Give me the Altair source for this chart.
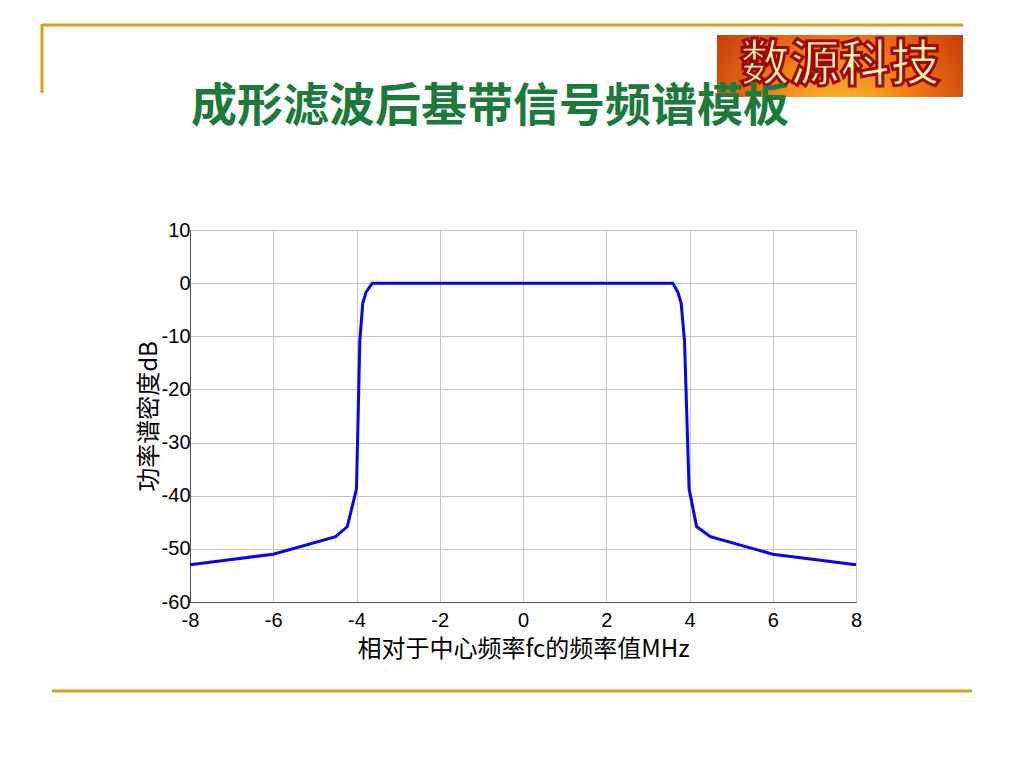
import altair as alt
import pandas as pd

# data
freq = [-8, -7, -6, -4.5, -4.22, -4.0, -3.92, -3.85, -3.77, -3.62,
        3.6, 3.72, 3.8, 3.88, 3.99, 4.17, 4.5, 6, 7, 8]
psd = [-53, -52, -51, -47.7, -45.8, -38.7, -10.8, -3.8, -1.7, 0,
       0, -1.7, -3.8, -10.8, -38.7, -45.8, -47.7, -51, -52, -53]
x_ticks = [-8, -6, -4, -2, 0, 2, 4, 6, 8]
y_ticks = [-60, -50, -40, -30, -20, -10, 0, 10]

title_text = "成形滤波后基带信号频谱模板"
logo_text = "数源科技"
x_title = "相对于中心频率fc的频率值MHz"
y_title = "功率谱密度dB"

df = pd.DataFrame({"f": freq, "p": psd})
one = pd.DataFrame({"a": [0]})

W, H = 666, 372
LBL = "Liberation Sans"
CJK = "Noto Sans CJK SC"
hyphen = "'' + datum.value"

line = alt.Chart(df).mark_line(color="#0505EE", strokeWidth=3).encode(
    x=alt.X("f:Q", scale=alt.Scale(domain=[-8, 8], nice=False, zero=False),
            axis=alt.Axis(values=x_ticks, title=x_title, grid=True, ticks=False,
                          labelPadding=8, titlePadding=7, labelFlush=False,
                          labelExpr=hyphen)),
    y=alt.Y("p:Q", scale=alt.Scale(domain=[-60, 10], nice=False, zero=False),
            axis=alt.Axis(values=y_ticks, title=y_title, grid=True, ticks=False,
                          labelPadding=0, titlePadding=0, labelFlush=False,
                          labelExpr=hyphen)),
)

gold = "#D6A21E"
top_line = alt.Chart(one).mark_rule(color=gold, strokeWidth=3).encode(
    x=alt.value(-148), x2=alt.value(773), y=alt.value(-205))
left_line = alt.Chart(one).mark_rule(color=gold, strokeWidth=3).encode(
    x=alt.value(-148), y=alt.value(-206), y2=alt.value(-137))
bottom_line = alt.Chart(one).mark_rule(color=gold, strokeWidth=3).encode(
    x=alt.value(-138), x2=alt.value(782), y=alt.value(461))

logo_bg = alt.Chart(one).mark_rect(
    fill=alt.RadialGradient(
        gradient="radial", x1=0.5, y1=0.8, x2=0.5, y2=0.7, r1=0, r2=0.8,
        stops=[alt.GradientStop(offset=0, color="#FFD838"),
               alt.GradientStop(offset=0.45, color="#EE7412"),
               alt.GradientStop(offset=1, color="#A8140A")])
).encode(x=alt.value(527), x2=alt.value(773), y=alt.value(-195), y2=alt.value(-133))

logo_txt = alt.Chart(one).mark_text(
    text=logo_text, font=CJK, fontSize=50, fontWeight="bold", fill="#FFF4B0",
    stroke="#A00808", strokeWidth=3, align="center", baseline="middle"
).encode(x=alt.value(650), y=alt.value(-164))

title = alt.Chart(one).mark_text(
    text=title_text, font=CJK, fontSize=46, fontWeight="bold", color="#1C7A3A",
    align="center", baseline="middle"
).encode(x=alt.value(300), y=alt.value(-123))

chart = alt.layer(line, top_line, left_line, bottom_line, logo_bg, logo_txt, title).properties(
    width=W, height=H,
    autosize=alt.AutoSizeParams(type="none"),
    padding={"left": 182, "top": 222, "right": 160, "bottom": 158},
    background="white",
).configure_view(stroke="#555555", strokeWidth=1).configure_axis(
    labelFont=LBL, labelFontSize=20, labelColor="#000000",
    titleFont=CJK, titleFontSize=24, titleFontWeight="normal", titleColor="#000000",
    gridColor="#C4C4C4", gridWidth=1, domainColor="#555555",
)

chart.save("out.html", embed_options={"renderer": "svg", "actions": False})
